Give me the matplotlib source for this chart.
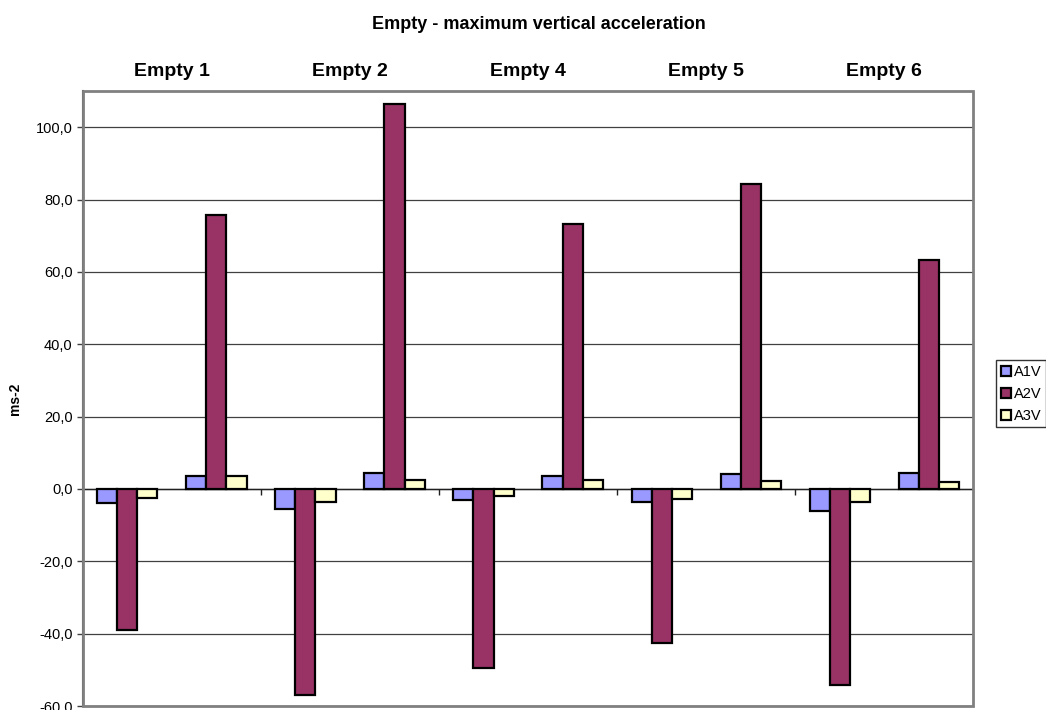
import numpy as np
import matplotlib.pyplot as plt
from matplotlib.patches import Rectangle
from matplotlib.ticker import FuncFormatter

plt.rcParams['font.family'] = ['Liberation Sans', 'DejaVu Sans']

tests = ['Empty 1', 'Empty 2', 'Empty 4', 'Empty 5', 'Empty 6']
series = ['A1V', 'A2V', 'A3V']
colors = ['#9999FF', '#993366', '#FFFFCC']

# each test gives a min group and a max group
a1v = [-3.9, 3.7, -5.5, 4.4, -3.0, 3.7, -3.5, 4.0, -6.2, 4.4]
a2v = [-39.0, 75.8, -57.0, 106.5, -49.4, 73.2, -42.5, 84.2, -54.2, 63.2]
a3v = [-2.4, 3.7, -3.7, 2.5, -1.9, 2.5, -2.9, 2.3, -3.5, 1.8]
yticks = [-60, -40, -20, 0, 20, 40, 60, 80, 100]

fig = plt.figure(figsize=(10.46, 7.10), dpi=100)
ax = fig.add_axes([0.0793, 0.0056, 0.851, 0.8662])

x = np.arange(len(a1v)) + 0.5
w = 0.225
for i, (vals, name, c) in enumerate(zip([a1v, a2v, a3v], series, colors)):
    ax.bar(x + (i - 1) * w, vals, w, color=c, edgecolor='black', linewidth=1.6,
           label=name, zorder=3)

ax.set_xlim(0, len(a1v))
ax.set_ylim(-60, 110)
ax.set_yticks(yticks)
ax.yaxis.set_major_formatter(FuncFormatter(lambda v, p: f'{v:.1f}'.replace('.', ',')))
ax.tick_params(axis='y', labelsize=10.5, length=4, width=1, color='#404040')
ax.grid(axis='y', color='#404040', linewidth=0.9, zorder=0)
ax.set_axisbelow(True)

# category axis crosses at zero, ticks between test pairs
for s in ['top', 'right']:
    ax.spines[s].set_visible(False)
ax.spines['left'].set_color('#404040')
ax.spines['left'].set_linewidth(1.5)
ax.spines['bottom'].set_position(('data', 0))
ax.spines['bottom'].set_color('#202020')
ax.spines['bottom'].set_linewidth(1)
ax.set_xticks([2, 4, 6, 8])
ax.set_xticklabels([])
ax.tick_params(axis='x', length=4, width=1, color='#202020', direction='out')

ax.add_patch(Rectangle((0, 0), 1, 1, transform=ax.transAxes, fill=False,
                       edgecolor='#808080', linewidth=2, zorder=4, clip_on=False))

top = ax.secondary_xaxis('top')
top.set_xticks(np.arange(len(tests)) * 2 + 1)
top.set_xticklabels(tests, fontsize=14, fontweight='bold')
top.tick_params(length=0, pad=8)
top.spines['top'].set_visible(False)

ax.set_ylabel('ms-2', fontsize=10, fontweight='bold', labelpad=10)
fig.suptitle('Empty - maximum vertical acceleration', fontsize=13,
             fontweight='bold', x=0.515, y=0.978)

ax.legend(loc='upper left', bbox_to_anchor=(1.026, 0.562), fontsize=10.5,
          frameon=True, fancybox=False, edgecolor='black', borderpad=0.3,
          handlelength=0.7, handleheight=0.7, handletextpad=0.2,
          labelspacing=0.55, borderaxespad=0)

fig.savefig('out.png', dpi=100)
